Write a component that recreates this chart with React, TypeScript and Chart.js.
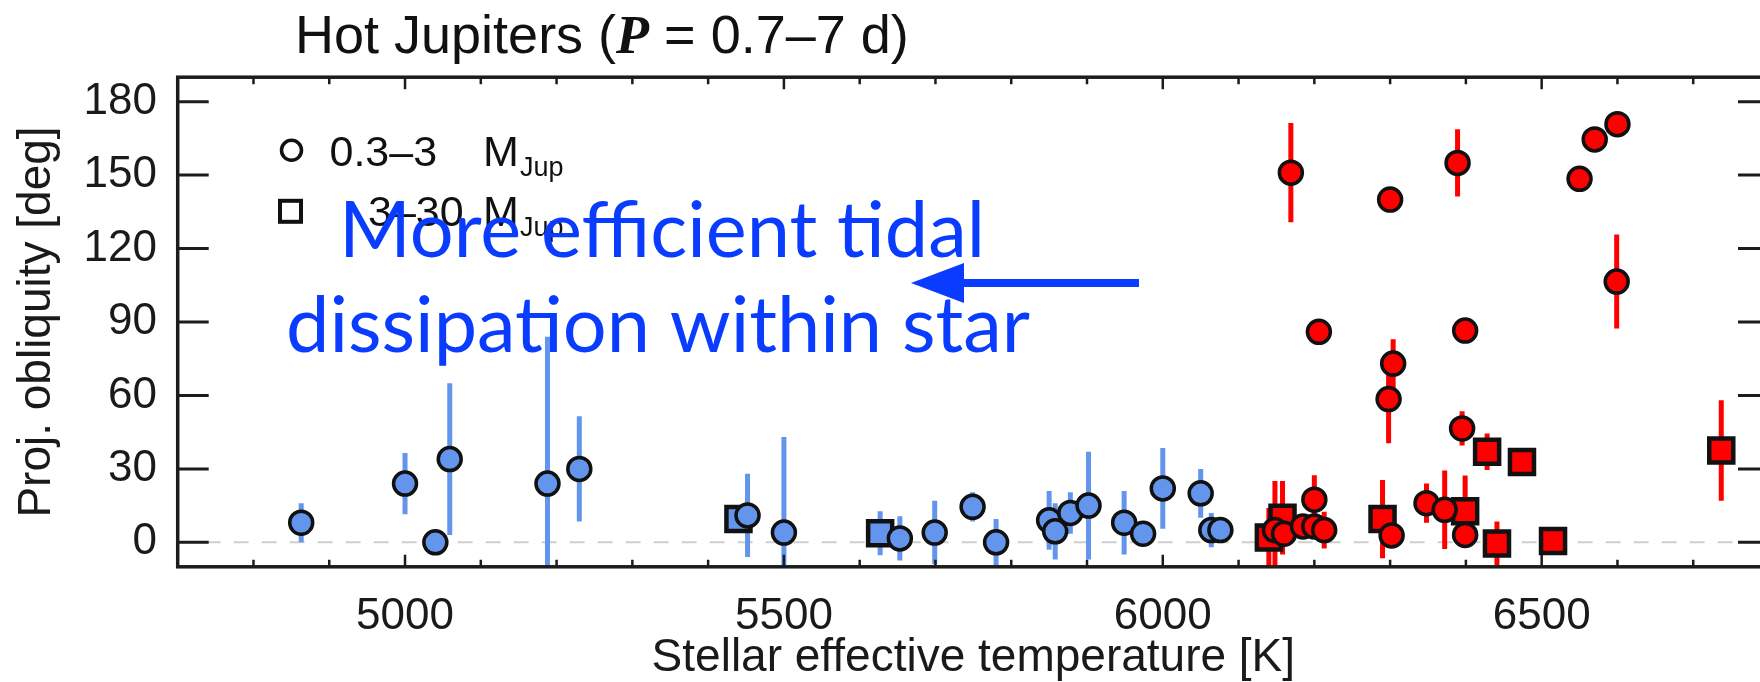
import React, { useEffect, useRef } from 'react';
import { Chart, registerables } from 'chart.js';

Chart.register(...registerables);

// ---- data ----
const blueCircleTeff = [4863, 5000, 5040, 5059, 5188, 5230, 5452, 5500, 5653, 5699, 5749, 5780, 5850, 5858, 5878, 5902, 5949, 5974, 6000, 6050, 6064, 6076];
const blueCircleObliquity = [8, 24, 0, 34, 24, 30, 11, 4, 1.6, 4, 14.5, 0, 9, 4.5, 12, 15, 8, 3.5, 22, 20, 5, 5];
const blueCircleError = [8, 12.5, 0, 31, 60, 21.5, 17, 39, 9, 13, 6, 9.5, 12, 11.5, 8.5, 22, 13, 0, 16.5, 10, 7, 0];

const blueSquareTeff = [5440, 5627];
const blueSquareObliquity = [9.5, 3.7];
const blueSquareError = [0, 9];

const redCircleTeff = [6148, 6160, 6169, 6185, 6200, 6200, 6206, 6213, 6298, 6300, 6302, 6304, 6348, 6372, 6389, 6395, 6399, 6399, 6550, 6570, 6599, 6600];
const redCircleObliquity = [5, 3.5, 151, 6.5, 6.5, 17.4, 86, 5, 58.5, 140, 2.8, 73, 16, 13.3, 155, 46.5, 86.5, 3, 148.5, 164.6, 106.5, 170.8];
const redCircleError = [20, 0, 20.3, 0, 0, 10, 0, 7.5, 18, 0, 0, 10, 8, 16, 13.7, 7, 5, 0, 0, 4, 19.2, 0];

const redSquareTeff = [6140, 6158, 6290, 6399, 6428, 6441, 6474, 6515, 6737];
const redSquareObliquity = [2, 10, 9.5, 12.7, 37, -0.5, 32.8, 0.5, 37.5];
const redSquareError = [12, 15, 16, 14.6, 7.5, 9, 0, 5, 20.5];

const xTickValues = [5000, 5500, 6000, 6500];
const xTickLabels = ['5000', '5500', '6000', '6500'];
const yTickValues = [0, 30, 60, 90, 120, 150, 180];
const yTickLabels = ['0', '30', '60', '90', '120', '150', '180'];
const xMinorStep = 100;

const BLUE = '#6495ED';
const RED = '#FF0000';
const ANNOT = '#0a3cff';
const SANS = '"Liberation Sans", Arial, Helvetica, sans-serif';

const toPoints = (xs: number[], ys: number[]) => xs.map((x, i) => ({ x, y: ys[i] }));

const decorPlugin = {
  id: 'decor',
  beforeDatasetsDraw(chart: any) {
    const { ctx, chartArea: a, scales } = chart;
    const x = scales.x;
    const y = scales.y;
    ctx.save();
    ctx.beginPath();
    ctx.rect(a.left, a.top, a.right - a.left, a.bottom - a.top);
    ctx.clip();
    // dashed zero line
    const y0 = y.getPixelForValue(0);
    ctx.setLineDash([15, 13]);
    ctx.strokeStyle = '#cfcfcf';
    ctx.lineWidth = 2;
    ctx.beginPath();
    ctx.moveTo(a.left, y0);
    ctx.lineTo(a.right, y0);
    ctx.stroke();
    ctx.setLineDash([]);
    // error bars
    ctx.lineWidth = 5;
    ctx.lineCap = 'butt';
    chart.data.datasets.forEach((ds: any) => {
      ctx.strokeStyle = ds.errorColor;
      ds.data.forEach((p: any, i: number) => {
        const e = ds.errors[i];
        if (!e) return;
        const px = x.getPixelForValue(p.x);
        ctx.beginPath();
        ctx.moveTo(px, y.getPixelForValue(p.y - e));
        ctx.lineTo(px, y.getPixelForValue(p.y + e));
        ctx.stroke();
      });
    });
    ctx.restore();

    // frame and inward ticks
    ctx.save();
    ctx.strokeStyle = '#1c1c1c';
    ctx.lineWidth = 2.5;
    const xmin = x.min, xmax = x.max;
    for (let v = Math.ceil(xmin / xMinorStep) * xMinorStep; v <= xmax; v += xMinorStep) {
      const px = x.getPixelForValue(v);
      if (px <= a.left + 1 || px >= a.right - 1) continue;
      const len = xTickValues.includes(v) ? 12 : 7;
      ctx.beginPath();
      ctx.moveTo(px, a.bottom);
      ctx.lineTo(px, a.bottom - len);
      ctx.moveTo(px, a.top);
      ctx.lineTo(px, a.top + len);
      ctx.stroke();
    }
    ctx.lineWidth = 3;
    yTickValues.forEach((v) => {
      const py = y.getPixelForValue(v);
      ctx.beginPath();
      ctx.moveTo(a.left, py);
      ctx.lineTo(a.left + 31, py);
      ctx.moveTo(a.right, py);
      ctx.lineTo(a.right - 31, py);
      ctx.stroke();
    });
    ctx.lineWidth = 3.5;
    ctx.strokeRect(a.left, a.top, a.right - a.left, a.bottom - a.top);
    ctx.restore();
  },
  afterDraw(chart: any) {
    const { ctx } = chart;
    ctx.save();
    ctx.fillStyle = '#111';
    ctx.textBaseline = 'alphabetic';
    ctx.textAlign = 'left';
    // title with bold-italic P
    let tx = 295;
    const tb = 53;
    ctx.font = `54px ${SANS}`;
    const t1 = 'Hot Jupiters (';
    ctx.fillText(t1, tx, tb);
    tx += ctx.measureText(t1).width;
    ctx.font = `italic bold 54px "Liberation Serif", "Times New Roman", serif`;
    ctx.fillText('P', tx, tb);
    tx += ctx.measureText('P').width;
    ctx.font = `54px ${SANS}`;
    ctx.fillText(' = 0.7\u20137 d)', tx, tb);

    // legend
    ctx.strokeStyle = '#111';
    ctx.lineWidth = 3.5;
    ctx.beginPath();
    ctx.arc(291.5, 150.3, 10, 0, Math.PI * 2);
    ctx.stroke();
    ctx.lineWidth = 4;
    ctx.strokeRect(290.5 - 10.5, 211.3 - 10.5, 21, 21);
    ctx.font = `43px ${SANS}`;
    ctx.fillText('0.3\u20133', 329.5, 165.5);
    ctx.fillText('M', 483, 165.5);
    ctx.fillText('3\u201330', 368, 225.5);
    ctx.fillText('M', 483, 225.5);
    ctx.font = `27px ${SANS}`;
    ctx.fillText('Jup', 520, 176);
    ctx.fillText('Jup', 520, 236);

    // blue annotation
    const line1 = 'More efficient tidal';
    const line2 = 'dissipation within star';
    ctx.font = `100px Lato, "Open Sans", sans-serif`;
    const w2 = ctx.measureText(line2).width;
    const size = (100 * 744) / w2;
    ctx.font = `${size}px Lato, "Open Sans", sans-serif`;
    ctx.fillStyle = ANNOT;
    ctx.fillText(line1, 339, 257);
    ctx.fillText(line2, 286, 352);

    // arrow
    ctx.strokeStyle = ANNOT;
    ctx.lineWidth = 8;
    ctx.beginPath();
    ctx.moveTo(1139, 283);
    ctx.lineTo(955, 283);
    ctx.stroke();
    ctx.beginPath();
    ctx.moveTo(911, 283);
    ctx.lineTo(964, 263);
    ctx.lineTo(964, 303);
    ctx.closePath();
    ctx.fill();
    ctx.restore();
  },
};

export default function App() {
  const canvasRef = useRef<HTMLCanvasElement | null>(null);

  useEffect(() => {
    if (!canvasRef.current) return;
    const chart = new Chart(canvasRef.current, {
      type: 'scatter',
      data: {
        datasets: [
          {
            label: 'blue circles',
            data: toPoints(blueCircleTeff, blueCircleObliquity),
            errors: blueCircleError,
            errorColor: BLUE,
            pointStyle: 'circle',
            pointRadius: 11.5,
            pointBorderWidth: 3.5,
            backgroundColor: BLUE,
            borderColor: '#111',
          },
          {
            label: 'red circles',
            data: toPoints(redCircleTeff, redCircleObliquity),
            errors: redCircleError,
            errorColor: RED,
            pointStyle: 'circle',
            pointRadius: 11.5,
            pointBorderWidth: 3.5,
            backgroundColor: RED,
            borderColor: '#111',
          },
          {
            label: 'blue squares',
            data: toPoints(blueSquareTeff, blueSquareObliquity),
            errors: blueSquareError,
            errorColor: BLUE,
            pointStyle: 'rect',
            pointRadius: 17,
            pointBorderWidth: 4.5,
            backgroundColor: BLUE,
            borderColor: '#111',
          },
          {
            label: 'red squares',
            data: toPoints(redSquareTeff, redSquareObliquity),
            errors: redSquareError,
            errorColor: RED,
            pointStyle: 'rect',
            pointRadius: 17,
            pointBorderWidth: 4.5,
            backgroundColor: RED,
            borderColor: '#111',
          },
        ] as any,
      },
      options: {
        animation: false,
        responsive: false,
        devicePixelRatio: 1,
        layout: { autoPadding: false, padding: { left: 0, top: 77.2, right: 31, bottom: 0 } },
        plugins: { legend: { display: false }, tooltip: { enabled: false }, title: { display: false } },
        scales: {
          x: {
            type: 'linear',
            position: 'bottom',
            min: 4700,
            max: 6800,
            grid: { display: false },
            border: { display: false },
            afterBuildTicks: (s: any) => { s.ticks = xTickValues.map((v) => ({ value: v })); },
            afterFit: (s: any) => { s.height = 115.2; },
            ticks: {
              autoSkip: false,
              maxRotation: 0,
              padding: 16,
              color: '#1a1a1a',
              font: { family: SANS, size: 44 },
              callback: (v: any) => xTickLabels[xTickValues.indexOf(Number(v))] ?? '',
            },
            title: {
              display: true,
              text: 'Stellar effective temperature [K]',
              color: '#1a1a1a',
              font: { family: SANS, size: 46, lineHeight: 1 },
              padding: { top: 0, bottom: 1 },
            },
          },
          y: {
            type: 'linear',
            position: 'left',
            min: -10,
            max: 190,
            grid: { display: false },
            border: { display: false },
            afterBuildTicks: (s: any) => { s.ticks = yTickValues.map((v) => ({ value: v })); },
            afterFit: (s: any) => { s.width = 177.7; },
            ticks: {
              padding: 12.7,
              color: '#1a1a1a',
              font: { family: SANS, size: 44 },
              callback: (v: any) => yTickLabels[yTickValues.indexOf(Number(v))] ?? '',
            },
            title: {
              display: true,
              text: 'Proj. obliquity [deg]',
              color: '#1a1a1a',
              font: { family: SANS, size: 46, lineHeight: 1.2 },
              padding: { top: 9.9, bottom: 0 },
            },
          },
        },
      } as any,
      plugins: [decorPlugin],
    });
    return () => chart.destroy();
  }, []);

  return (
    <div style={{ position: 'fixed', left: 0, top: 0, width: 1760, height: 682, overflow: 'hidden', background: '#fff' }}>
      <canvas ref={canvasRef} width={1800} height={682} style={{ display: 'block', width: 1800, height: 682 }} />
    </div>
  );
}
